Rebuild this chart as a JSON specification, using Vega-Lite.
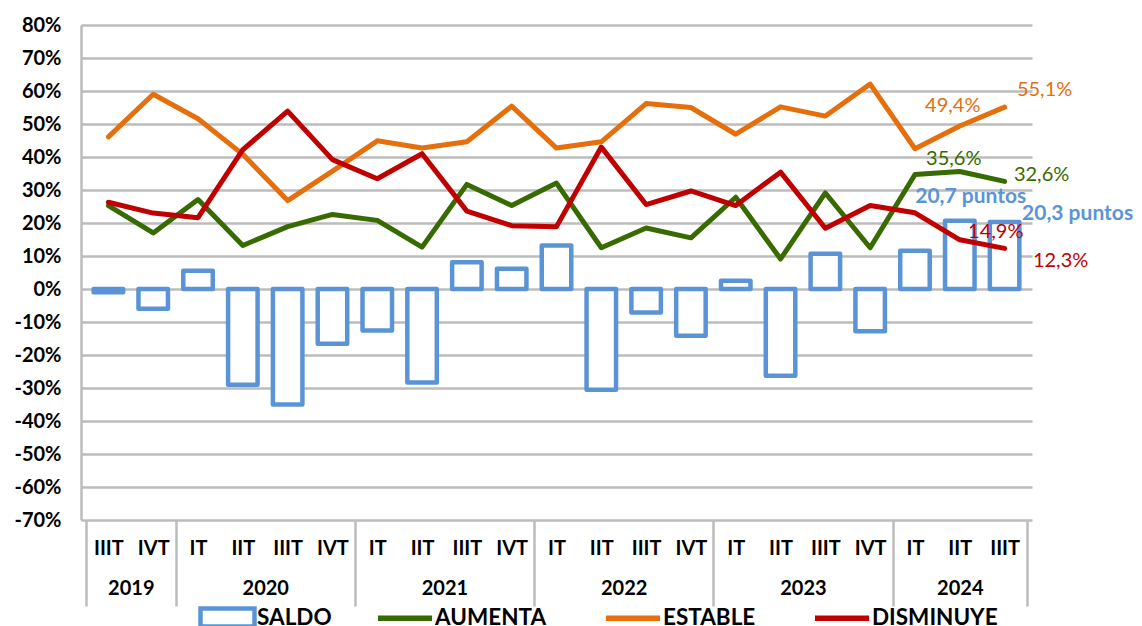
{
  "$schema": "https://vega.github.io/schema/vega-lite/v6.json",
  "width": 951,
  "height": 495,
  "autosize": {"type": "none"},
  "padding": {"left": 81, "top": 25, "right": 110, "bottom": 106},
  "background": "white",
  "datasets": {
    "main": [
      {"i": 1, "q": "IIIT", "year": 2019, "SALDO": -1.0, "AUMENTA": 25.3, "ESTABLE": 46.1, "DISMINUYE": 26.3},
      {"i": 2, "q": "IVT", "year": 2019, "SALDO": -6.0, "AUMENTA": 17.0, "ESTABLE": 59.0, "DISMINUYE": 23.0},
      {"i": 3, "q": "IT", "year": 2020, "SALDO": 5.5, "AUMENTA": 27.1, "ESTABLE": 51.6, "DISMINUYE": 21.6},
      {"i": 4, "q": "IIT", "year": 2020, "SALDO": -29.0, "AUMENTA": 13.2, "ESTABLE": 40.8, "DISMINUYE": 42.2},
      {"i": 5, "q": "IIIT", "year": 2020, "SALDO": -35.0, "AUMENTA": 18.9, "ESTABLE": 26.8, "DISMINUYE": 53.9},
      {"i": 6, "q": "IVT", "year": 2020, "SALDO": -16.6, "AUMENTA": 22.6, "ESTABLE": 35.7, "DISMINUYE": 39.2},
      {"i": 7, "q": "IT", "year": 2021, "SALDO": -12.6, "AUMENTA": 20.8, "ESTABLE": 44.9, "DISMINUYE": 33.4},
      {"i": 8, "q": "IIT", "year": 2021, "SALDO": -28.3, "AUMENTA": 12.7, "ESTABLE": 42.7, "DISMINUYE": 41.0},
      {"i": 9, "q": "IIIT", "year": 2021, "SALDO": 8.1, "AUMENTA": 31.7, "ESTABLE": 44.6, "DISMINUYE": 23.6},
      {"i": 10, "q": "IVT", "year": 2021, "SALDO": 6.1, "AUMENTA": 25.3, "ESTABLE": 55.4, "DISMINUYE": 19.2},
      {"i": 11, "q": "IT", "year": 2022, "SALDO": 13.2, "AUMENTA": 32.1, "ESTABLE": 42.7, "DISMINUYE": 18.9},
      {"i": 12, "q": "IIT", "year": 2022, "SALDO": -30.5, "AUMENTA": 12.5, "ESTABLE": 44.6, "DISMINUYE": 43.0},
      {"i": 13, "q": "IIIT", "year": 2022, "SALDO": -7.1, "AUMENTA": 18.5, "ESTABLE": 56.2, "DISMINUYE": 25.6},
      {"i": 14, "q": "IVT", "year": 2022, "SALDO": -14.2, "AUMENTA": 15.5, "ESTABLE": 55.0, "DISMINUYE": 29.7},
      {"i": 15, "q": "IT", "year": 2023, "SALDO": 2.5, "AUMENTA": 27.8, "ESTABLE": 46.9, "DISMINUYE": 25.3},
      {"i": 16, "q": "IIT", "year": 2023, "SALDO": -26.3, "AUMENTA": 9.1, "ESTABLE": 55.2, "DISMINUYE": 35.4},
      {"i": 17, "q": "IIIT", "year": 2023, "SALDO": 10.7, "AUMENTA": 29.1, "ESTABLE": 52.4, "DISMINUYE": 18.4},
      {"i": 18, "q": "IVT", "year": 2023, "SALDO": -12.8, "AUMENTA": 12.5, "ESTABLE": 62.1, "DISMINUYE": 25.3},
      {"i": 19, "q": "IT", "year": 2024, "SALDO": 11.6, "AUMENTA": 34.7, "ESTABLE": 42.5, "DISMINUYE": 23.1},
      {"i": 20, "q": "IIT", "year": 2024, "SALDO": 20.7, "AUMENTA": 35.6, "ESTABLE": 49.4, "DISMINUYE": 14.9},
      {"i": 21, "q": "IIIT", "year": 2024, "SALDO": 20.3, "AUMENTA": 32.6, "ESTABLE": 55.1, "DISMINUYE": 12.3}
    ],
    "labels": [
      {"i": 21, "v": 55.1, "label": "55,1%"},
      {"i": 20, "v": 49.4, "label": "49,4%"},
      {"i": 20, "v": 35.6, "label": "35,6%"},
      {"i": 21, "v": 32.6, "label": "32,6%"},
      {"i": 20, "v": 20.7, "label": "20,7 puntos"},
      {"i": 21, "v": 20.3, "label": "20,3 puntos"},
      {"i": 20, "v": 14.9, "label": "14,9%"},
      {"i": 21, "v": 12.3, "label": "12,3%"}
    ]
  },
  "config": {
    "view": {"stroke": null},
    "font": "Lato",
    "axis": {"labelFont": "Lato", "labelFontWeight": "bold", "labelFontSize": 20, "labelColor": "#000000"},
    "legend": {"labelFont": "Lato", "labelFontWeight": "bold", "labelFontSize": 22.5, "labelColor": "#000000", "labelOffset": 0}
  },
  "resolve": {"axis": {"x": "independent", "y": "independent"}},
  "layer": [
    {
      "data": {"name": "main"},
      "mark": {"type": "bar", "size": 29.5, "fill": "white", "strokeWidth": 4.5, "strokeJoin": "round"},
      "encoding": {
        "x": {
          "field": "i", "type": "quantitative",
          "scale": {"domain": [0.5, 21.5], "nice": false, "zero": false},
          "axis": {
            "orient": "bottom", "values": [1,2,3,4,5,6,7,8,9,10,11,12,13,14,15,16,17,18,19,20,21],
            "labelExpr": "['IIIT','IVT','IT','IIT','IIIT','IVT','IT','IIT','IIIT','IVT','IT','IIT','IIIT','IVT','IT','IIT','IIIT','IVT','IT','IIT','IIIT'][datum.value - 1]",
            "ticks": false, "domain": false, "grid": false, "labelPadding": 18, "title": null, "labelFlush": false, "labelOverlap": false
          }
        },
        "y": {
          "field": "SALDO", "type": "quantitative",
          "scale": {"domain": [-70, 80], "nice": false},
          "axis": {
            "orient": "left",
            "values": [-70,-60,-50,-40,-30,-20,-10,0,10,20,30,40,50,60,70,80],
            "labelExpr": "datum.value + '%'",
            "labelOverlap": false, "labelFlush": false,
            "ticks": false, "domain": true, "domainColor": "#bcbcbc", "domainWidth": 2.5,
            "grid": true, "gridColor": "#bcbcbc", "gridWidth": 2.5,
            "labelPadding": 20, "title": null
          }
        },
        "stroke": {
          "datum": "SALDO", "type": "nominal",
          "scale": {"domain": ["SALDO"], "range": ["#5B94D6"]},
          "legend": {
            "orient": "none", "legendX": 117, "legendY": 563, "direction": "horizontal",
            "title": null, "symbolSize": 2916, "symbolType": "M-1,-0.333H1V0.333H-1Z",
            "symbolFillColor": "white", "symbolStrokeWidth": 4.5
          }
        }
      }
    },
    {
      "data": {"name": "main"},
      "transform": [{"fold": ["AUMENTA", "ESTABLE", "DISMINUYE"], "as": ["serie", "v"]}],
      "mark": {"type": "line", "strokeWidth": 5, "strokeCap": "round", "strokeJoin": "round"},
      "encoding": {
        "x": {
          "field": "i", "type": "quantitative",
          "axis": {
            "orient": "bottom", "values": [0.5, 2.5, 6.5, 10.5, 14.5, 18.5, 21.5],
            "labels": false, "ticks": true, "tickSize": 86, "tickColor": "#bcbcbc", "tickWidth": 2.5,
            "domain": false, "grid": false, "title": null
          }
        },
        "y": {"field": "v", "type": "quantitative", "axis": null},
        "color": {
          "field": "serie", "type": "nominal",
          "scale": {"domain": ["AUMENTA", "ESTABLE", "DISMINUYE"], "range": ["#376A00", "#E46F0C", "#C00000"]},
          "legend": {
            "orient": "none", "legendX": 294, "legendY": 563, "direction": "horizontal",
            "title": null, "symbolSize": 2916, "symbolType": "stroke", "symbolStrokeWidth": 5.5,
            "columnPadding": 48
          }
        },
        "detail": {"field": "serie"}
      }
    },
    {
      "data": {"name": "labels"},
      "transform": [{"filter": "datum.label === '55,1%'"}],
      "mark": {"type": "text", "font": "Lato", "fontSize": 20, "color": "#E46F0C", "dx": 40, "dy": -17, "align": "center", "baseline": "middle"},
      "encoding": {
        "x": {
          "field": "i", "type": "quantitative",
          "axis": {
            "orient": "bottom", "values": [1.5, 4.5, 8.5, 12.5, 16.5, 20],
            "labelExpr": "datum.value < 2 ? '2019' : datum.value < 5 ? '2020' : datum.value < 9 ? '2021' : datum.value < 13 ? '2022' : datum.value < 17 ? '2023' : '2024'",
            "ticks": false, "domain": false, "grid": false, "labelPadding": 58, "title": null
          }
        },
        "y": {"field": "v", "type": "quantitative", "axis": null},
        "text": {"field": "label"}
      }
    },
    {
      "data": {"name": "labels"},
      "transform": [{"filter": "datum.label === '49,4%'"}],
      "mark": {"type": "text", "font": "Lato", "fontSize": 20, "color": "#E46F0C", "dx": -7, "dy": -20, "align": "center", "baseline": "middle"},
      "encoding": {"x": {"field": "i", "type": "quantitative", "axis": null}, "y": {"field": "v", "type": "quantitative", "axis": null}, "text": {"field": "label"}}
    },
    {
      "data": {"name": "labels"},
      "transform": [{"filter": "datum.label === '35,6%'"}],
      "mark": {"type": "text", "font": "Lato", "fontSize": 20, "color": "#376A00", "dx": -6, "dy": -13, "align": "center", "baseline": "middle"},
      "encoding": {"x": {"field": "i", "type": "quantitative", "axis": null}, "y": {"field": "v", "type": "quantitative", "axis": null}, "text": {"field": "label"}}
    },
    {
      "data": {"name": "labels"},
      "transform": [{"filter": "datum.label === '32,6%'"}],
      "mark": {"type": "text", "font": "Lato", "fontSize": 20, "color": "#376A00", "dx": 37, "dy": -6, "align": "center", "baseline": "middle"},
      "encoding": {"x": {"field": "i", "type": "quantitative", "axis": null}, "y": {"field": "v", "type": "quantitative", "axis": null}, "text": {"field": "label"}}
    },
    {
      "data": {"name": "labels"},
      "transform": [{"filter": "datum.label === '20,7 puntos'"}],
      "mark": {"type": "text", "font": "Lato", "fontSize": 21, "fontWeight": "bold", "color": "#5B94D6", "dx": 11, "dy": -24, "align": "center", "baseline": "middle"},
      "encoding": {"x": {"field": "i", "type": "quantitative", "axis": null}, "y": {"field": "v", "type": "quantitative", "axis": null}, "text": {"field": "label"}}
    },
    {
      "data": {"name": "labels"},
      "transform": [{"filter": "datum.label === '20,3 puntos'"}],
      "mark": {"type": "text", "font": "Lato", "fontSize": 21, "fontWeight": "bold", "color": "#5B94D6", "dx": 73, "dy": -8, "align": "center", "baseline": "middle"},
      "encoding": {"x": {"field": "i", "type": "quantitative", "axis": null}, "y": {"field": "v", "type": "quantitative", "axis": null}, "text": {"field": "label"}}
    },
    {
      "data": {"name": "labels"},
      "transform": [{"filter": "datum.label === '14,9%'"}],
      "mark": {"type": "text", "font": "Lato", "fontSize": 20, "color": "#C00000", "dx": 36, "dy": -8, "align": "center", "baseline": "middle"},
      "encoding": {"x": {"field": "i", "type": "quantitative", "axis": null}, "y": {"field": "v", "type": "quantitative", "axis": null}, "text": {"field": "label"}}
    },
    {
      "data": {"name": "labels"},
      "transform": [{"filter": "datum.label === '12,3%'"}],
      "mark": {"type": "text", "font": "Lato", "fontSize": 20, "color": "#C00000", "dx": 56, "dy": 13, "align": "center", "baseline": "middle"},
      "encoding": {"x": {"field": "i", "type": "quantitative", "axis": null}, "y": {"field": "v", "type": "quantitative", "axis": null}, "text": {"field": "label"}}
    }
  ]
}
